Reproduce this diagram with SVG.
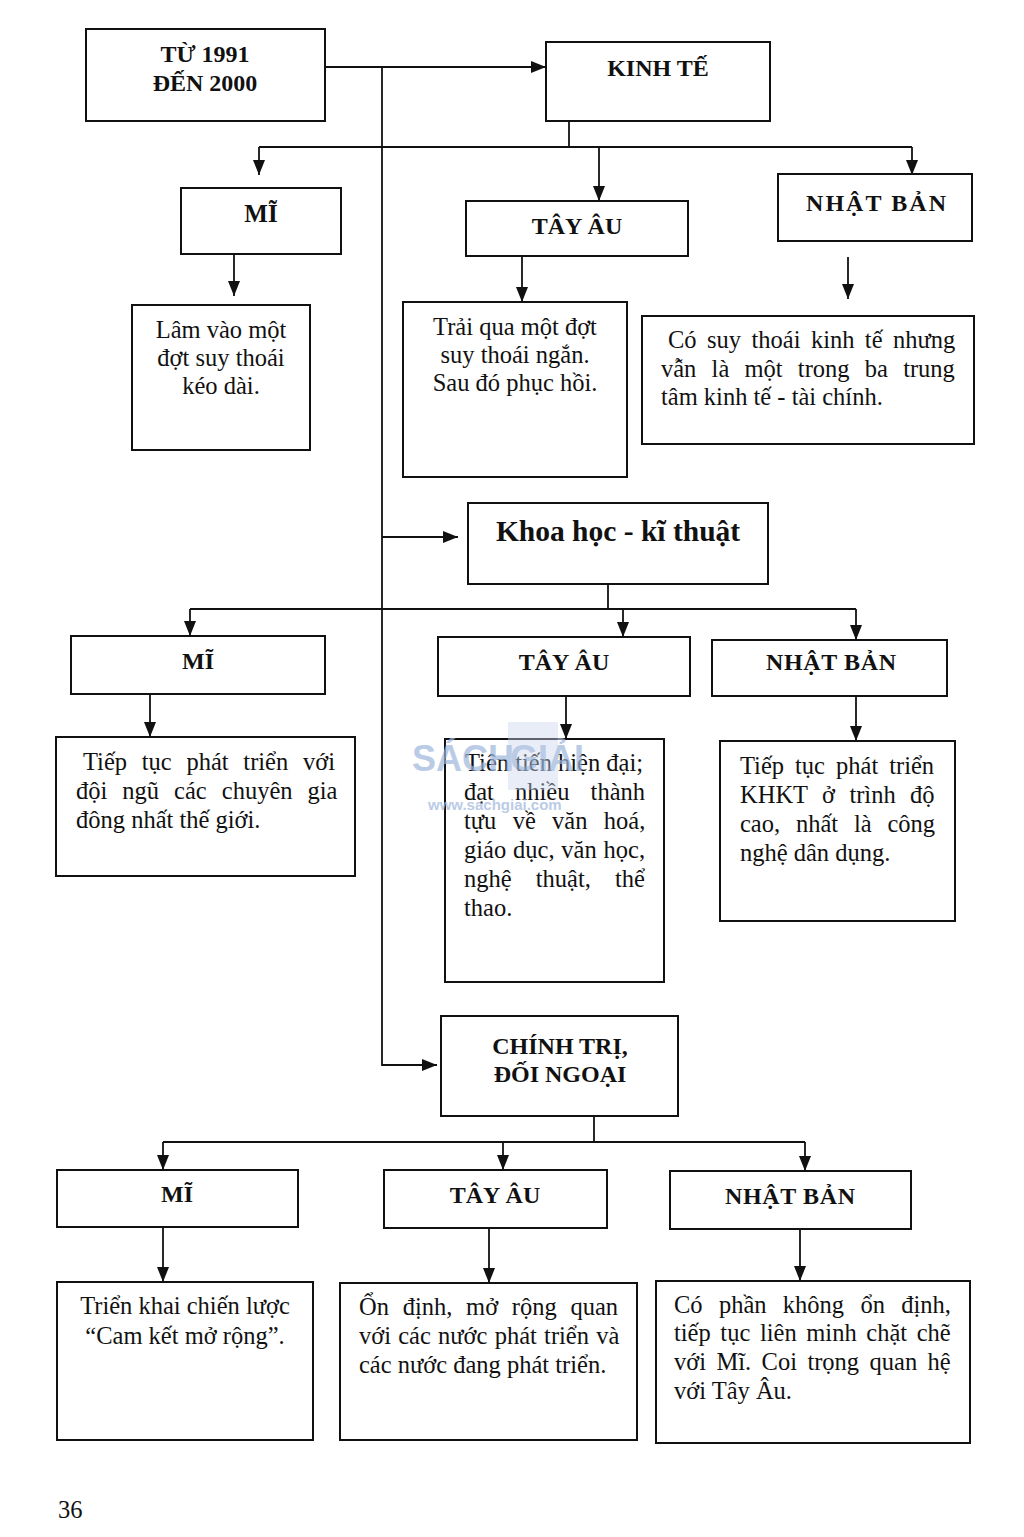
<svg xmlns="http://www.w3.org/2000/svg" width="1024" height="1537" viewBox="0 0 1024 1537">
<style>
.box{fill:#fff;stroke:#111;stroke-width:2}
.ln{fill:none;stroke:#111;stroke-width:1.8}
.h{font-family:"Liberation Serif",serif;font-weight:bold;font-size:24px;fill:#111;text-anchor:middle}
.t{font-family:"Liberation Serif",serif;font-size:24.5px;fill:#111}
.c{text-anchor:middle}
.wm{font-family:"Liberation Sans",Arial,sans-serif;fill:#9db6dc;font-weight:bold}
</style>
<defs>
<marker id="ah" markerUnits="userSpaceOnUse" markerWidth="16" markerHeight="12" refX="15" refY="6" orient="auto">
<path d="M0,0 L15,6 L0,12 z" fill="#111"/>
</marker>
</defs>
<rect width="1024" height="1537" fill="#fff"/>

<g id="connectors">
<path class="ln" d="M325,67 H546" marker-end="url(#ah)"/>
<path class="ln" d="M382,67 V1065 H437" marker-end="url(#ah)"/>
<path class="ln" d="M382,537 H458" marker-end="url(#ah)"/>
<path class="ln" d="M569,121 V147"/>
<path class="ln" d="M259,147 H912"/>
<path class="ln" d="M259,147 V175" marker-end="url(#ah)"/>
<path class="ln" d="M599,147 V201" marker-end="url(#ah)"/>
<path class="ln" d="M912,147 V175" marker-end="url(#ah)"/>
<path class="ln" d="M234,254 V296" marker-end="url(#ah)"/>
<path class="ln" d="M522,256 V302" marker-end="url(#ah)"/>
<path class="ln" d="M848,257 V299" marker-end="url(#ah)"/>
<path class="ln" d="M608,584 V609"/>
<path class="ln" d="M190,609 H856"/>
<path class="ln" d="M190,609 V636" marker-end="url(#ah)"/>
<path class="ln" d="M623,609 V637" marker-end="url(#ah)"/>
<path class="ln" d="M856,609 V640" marker-end="url(#ah)"/>
<path class="ln" d="M150,686 V737" marker-end="url(#ah)"/>
<path class="ln" d="M566,688 V739" marker-end="url(#ah)"/>
<path class="ln" d="M856,690 V741" marker-end="url(#ah)"/>
<path class="ln" d="M594,1116 V1142"/>
<path class="ln" d="M163,1142 H805"/>
<path class="ln" d="M163,1142 V1170" marker-end="url(#ah)"/>
<path class="ln" d="M503,1142 V1170" marker-end="url(#ah)"/>
<path class="ln" d="M805,1142 V1171" marker-end="url(#ah)"/>
<path class="ln" d="M163,1227 V1282" marker-end="url(#ah)"/>
<path class="ln" d="M489,1228 V1283" marker-end="url(#ah)"/>
<path class="ln" d="M800,1229 V1281" marker-end="url(#ah)"/>
</g>

<g id="n-root"><rect class="box" x="86" y="29" width="239" height="92"/>
<text class="h" x="205" y="62">TỪ 1991</text><text class="h" x="205" y="91">ĐẾN 2000</text></g>

<g id="n-kinhte"><rect class="box" x="546" y="42" width="224" height="79"/>
<text class="h" x="658" y="76">KINH TẾ</text></g>

<g id="n-kt-mi"><rect class="box" x="181" y="188" width="160" height="66"/>
<text class="h" x="261" y="222" style="font-size:25px">MĨ</text></g>
<g id="n-kt-tayau"><rect class="box" x="466" y="201" width="222" height="55"/>
<text class="h" x="577" y="234">TÂY ÂU</text></g>
<g id="n-kt-nhat"><rect class="box" x="778" y="174" width="194" height="67"/>
<text class="h" x="876" y="211" textLength="140">NHẬT BẢN</text></g>

<g id="n-kt-mi-d"><rect class="box" x="132" y="305" width="178" height="145"/>
<text class="t c" x="221" y="338">Lâm vào một</text>
<text class="t c" x="221" y="366">đợt suy thoái</text>
<text class="t c" x="221" y="394">kéo dài.</text></g>
<g id="n-kt-tayau-d"><rect class="box" x="403" y="302" width="224" height="175"/>
<text class="t c" x="515" y="335">Trải qua một đợt</text>
<text class="t c" x="515" y="363">suy thoái ngắn.</text>
<text class="t c" x="515" y="391">Sau đó phục hồi.</text></g>
<g id="n-kt-nhat-d"><rect class="box" x="642" y="316" width="332" height="128"/>
<text class="t" x="668" y="348" style="word-spacing:4.3px">Có suy thoái kinh tế nhưng</text>
<text class="t" x="661" y="377" style="word-spacing:9.1px">vẫn là một trong ba trung</text>
<text class="t" x="661" y="405">tâm kinh tế - tài chính.</text></g>

<g id="n-khkt"><rect class="box" x="468" y="503" width="300" height="81"/>
<text class="h" x="618" y="541" style="font-size:29.5px">Khoa học - kĩ thuật</text></g>

<g id="n-kh-mi"><rect class="box" x="71" y="636" width="254" height="58"/>
<text class="h" x="198" y="669">MĨ</text></g>
<g id="n-kh-tayau"><rect class="box" x="438" y="637" width="252" height="59"/>
<text class="h" x="564" y="670">TÂY ÂU</text></g>
<g id="n-kh-nhat"><rect class="box" x="712" y="640" width="235" height="56"/>
<text class="h" x="831" y="670" textLength="130">NHẬT BẢN</text></g>

<g id="n-kh-mi-d"><rect class="box" x="56" y="737" width="299" height="139"/>
<text class="t" x="83" y="770" style="word-spacing:8.6px">Tiếp tục phát triển với</text>
<text class="t" x="76" y="799" style="word-spacing:8.9px">đội ngũ các chuyên gia</text>
<text class="t" x="76" y="828">đông nhất thế giới.</text></g>
<g id="n-kh-tayau-d"><rect class="box" x="445" y="739" width="219" height="243"/>
<text class="t" x="465" y="771">Tiên tiến hiện đại;</text>
<text class="t" x="464" y="800" style="word-spacing:15px">đạt nhiều thành</text>
<text class="t" x="464" y="829" style="word-spacing:10.2px">tựu về văn hoá,</text>
<text class="t" x="464" y="858" style="word-spacing:0.7px">giáo dục, văn học,</text>
<text class="t" x="464" y="887" style="word-spacing:18px">nghệ thuật, thể</text>
<text class="t" x="464" y="916">thao.</text></g>
<g id="n-kh-nhat-d"><rect class="box" x="720" y="741" width="235" height="180"/>
<text class="t" x="740" y="774" style="word-spacing:4.9px">Tiếp tục phát triển</text>
<text class="t" x="740" y="803" style="word-spacing:8.3px">KHKT ở trình độ</text>
<text class="t" x="740" y="832" style="word-spacing:9.7px">cao, nhất là công</text>
<text class="t" x="740" y="861">nghệ dân dụng.</text></g>

<g id="n-chinhtri"><rect class="box" x="441" y="1016" width="237" height="100"/>
<text class="h" x="560" y="1054">CHÍNH TRỊ,</text>
<text class="h" x="560" y="1082">ĐỐI NGOẠI</text></g>

<g id="n-ct-mi"><rect class="box" x="57" y="1170" width="241" height="57"/>
<text class="h" x="177" y="1202">MĨ</text></g>
<g id="n-ct-tayau"><rect class="box" x="384" y="1170" width="223" height="58"/>
<text class="h" x="495" y="1203">TÂY ÂU</text></g>
<g id="n-ct-nhat"><rect class="box" x="670" y="1171" width="241" height="58"/>
<text class="h" x="790" y="1204" textLength="130">NHẬT BẢN</text></g>

<g id="n-ct-mi-d"><rect class="box" x="57" y="1282" width="256" height="158"/>
<text class="t c" x="185" y="1314">Triển khai chiến lược</text>
<text class="t c" x="185" y="1344">“Cam kết mở rộng”.</text></g>
<g id="n-ct-tayau-d"><rect class="box" x="340" y="1283" width="297" height="157"/>
<text class="t" x="359" y="1315" style="word-spacing:7.6px">Ổn định, mở rộng quan</text>
<text class="t" x="359" y="1344" style="word-spacing:1.1px">với các nước phát triển và</text>
<text class="t" x="359" y="1373">các nước đang phát triển.</text></g>
<g id="n-ct-nhat-d"><rect class="box" x="656" y="1281" width="314" height="162"/>
<text class="t" x="674" y="1313" style="word-spacing:10.2px">Có phần không ổn định,</text>
<text class="t" x="674" y="1341" style="word-spacing:3.5px">tiếp tục liên minh chặt chẽ</text>
<text class="t" x="674" y="1370" style="word-spacing:4.3px">với Mĩ. Coi trọng quan hệ</text>
<text class="t" x="674" y="1399">với Tây Âu.</text></g>

<g id="watermark" opacity="0.7">
<rect x="508" y="722" width="50" height="68" fill="#c9d6ec" opacity="0.6"/>
<text class="wm" x="412" y="771" font-size="36">SÁCH</text>
<text class="wm" x="510" y="771" font-size="36">GIẢI</text>
<text class="wm" x="428" y="810" font-size="15" font-weight="normal">www.sachgiai.com</text>
</g>

<text class="t" x="58" y="1518">36</text>
</svg>
